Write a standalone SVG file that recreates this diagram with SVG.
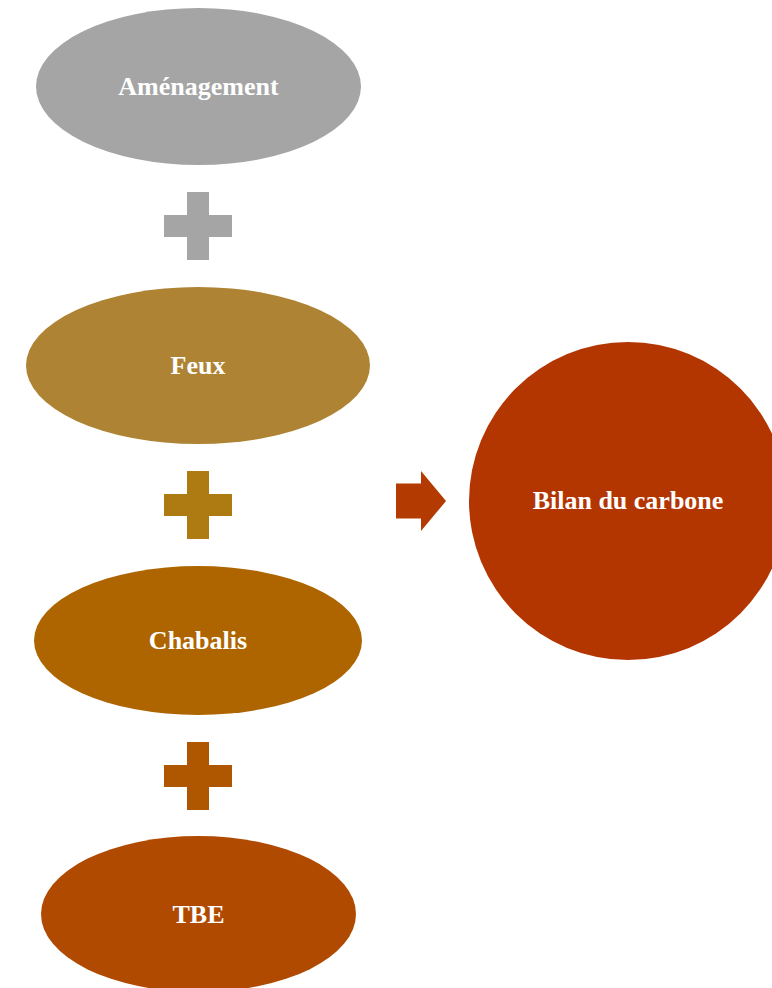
<svg xmlns="http://www.w3.org/2000/svg" width="772" height="988" viewBox="0 0 772 988">
  <style>
    .label { font-family: "Liberation Serif", "Times New Roman", serif; font-weight: bold; font-size: 26px; fill: #FFFFFF; text-anchor: middle; dominant-baseline: central; }
  </style>
  <defs>
    <!-- plus sign centred on the origin -->
    <path id="plus" d="M-11,-34 H11 V-11 H34 V11 H11 V34 H-11 V11 H-34 V-11 H-11 Z"/>
  </defs>
  <rect width="772" height="988" fill="#FFFFFF"/>

  <g id="connectors">
    <use href="#plus" x="198" y="226" fill="#A5A5A5"/>
    <use href="#plus" x="198" y="505" fill="#AE7B12"/>
    <use href="#plus" x="198" y="776" fill="#AE5700"/>
    <path d="M396,483.5 H421 V471 L446,501 L421,531 V518.5 H396 Z" fill="#B33A00"/>
  </g>

  <g id="amenagement">
    <ellipse cx="198.5" cy="86.5" rx="162.5" ry="78.5" fill="#A5A5A5"/>
    <text class="label" x="198.5" y="86.5">Aménagement</text>
  </g>
  <g id="feux">
    <ellipse cx="198" cy="365.5" rx="172" ry="78.5" fill="#AE8434"/>
    <text class="label" x="198" y="365.5">Feux</text>
  </g>
  <g id="chabalis">
    <ellipse cx="198" cy="640.5" rx="164" ry="74.5" fill="#AE6500"/>
    <text class="label" x="198" y="640.5">Chabalis</text>
  </g>
  <g id="tbe">
    <ellipse cx="198.5" cy="914" rx="157.5" ry="78" fill="#AF4A00"/>
    <text class="label" x="198.5" y="914">TBE</text>
  </g>
  <g id="bilan">
    <circle cx="628" cy="501" r="159" fill="#B33500"/>
    <text class="label" x="628" y="500">Bilan du carbone</text>
  </g>
</svg>
